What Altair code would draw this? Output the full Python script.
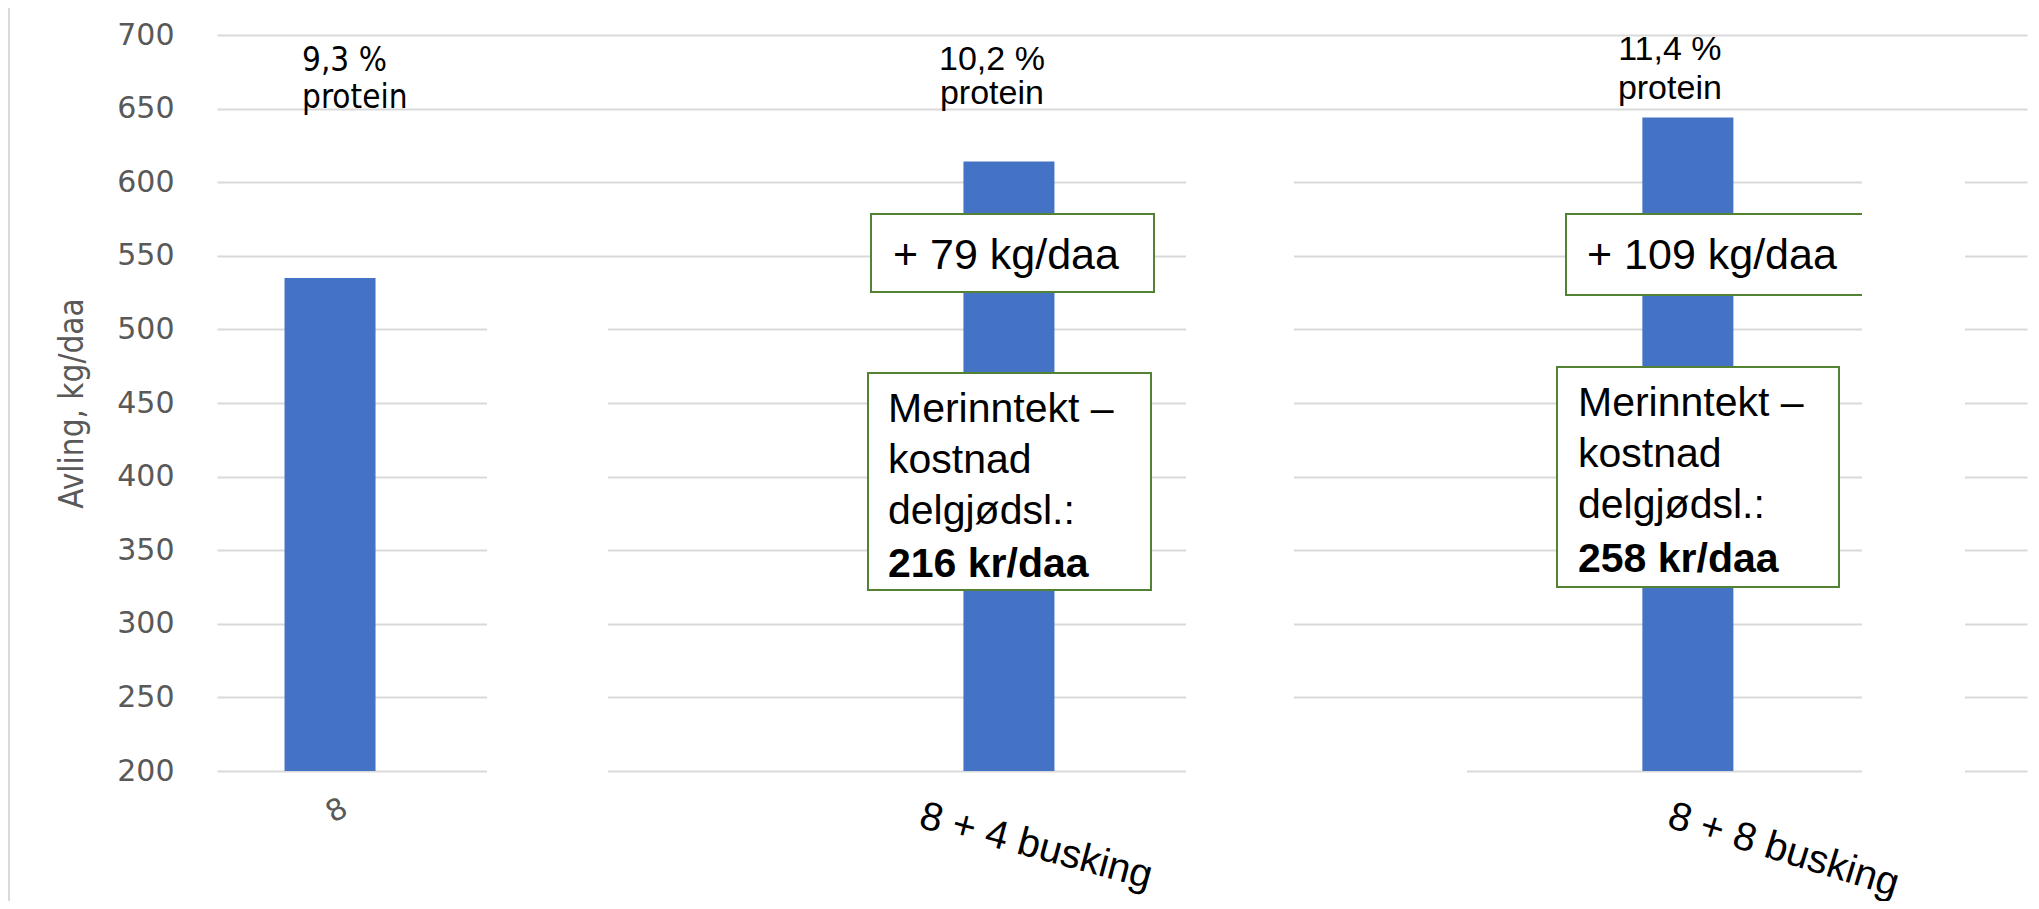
import altair as alt
import pandas as pd

# ---- data ----
categories = ["8", "8 + 4 busking", "8 + 8 busking"]
yields = [535, 614, 644]
protein = ["9,3 %", "10,2 %", "11,4 %"]
gain = ["", "+ 79 kg/daa", "+ 109 kg/daa"]
net_text = ["", "Merinntekt –\nkostnad\ndelgjødsl.:", "Merinntekt –\nkostnad\ndelgjødsl.:"]
net_value = ["", "216 kr/daa", "258 kr/daa"]
y_ticks = [200, 250, 300, 350, 400, 450, 500, 550, 600, 650, 700]

df = pd.DataFrame({
    "cat": categories,
    "yield": yields,
    "protein": [p + "\nprotein" for p in protein],
    "gain": gain,
    "net_text": net_text,
    "net_value": net_value,
})
one = pd.DataFrame({"k": [0]})

W, H = 1810, 736
BAR = "#4472c4"
GREEN = "#548235"
GRID = "#d9d9d9"
GRAY = "#595959"
ARIAL = "Liberation Sans, Arial, sans-serif"
NARROW = "Liberation Sans Narrow, Arial Narrow, DejaVu Sans Condensed, sans-serif"

x_enc = alt.X(
    "cat:N", sort=categories, axis=None,
    scale=alt.Scale(paddingInner=0.866, paddingOuter=0.266, align=0.187),
)

base = alt.Chart(df)

bars = base.mark_bar(color=BAR, size=91).encode(
    x=x_enc,
    y=alt.Y(
        "yield:Q",
        scale=alt.Scale(domain=[200, 700], nice=False, zero=False),
        axis=alt.Axis(
            values=y_ticks, grid=True, gridColor=GRID, gridWidth=2,
            domain=False, ticks=False, labelFont="DejaVu Sans",
            labelFontSize=30, labelColor=GRAY, labelPadding=43,
            title="Avling, kg/daa", titleFont=NARROW, titleFontSize=33,
            titleFontWeight="normal", titleColor=GRAY, titleX=-145,
            titleY=368, titleAngle=270, titleAlign="center",
            titleBaseline="middle",
        ),
    ),
    y2=alt.datum(200),
)

def white_gap(x1, x2, y1, y2):
    return alt.Chart(one).mark_rect(color="white").encode(
        x=alt.value(x1), x2=alt.value(x2), y=alt.value(y1), y2=alt.value(y2)
    )

gaps_back = [
    white_gap(270, 391, 290, 745),
    white_gap(287, 391, 287, 300),
    white_gap(969, 1077, 140, 745),
    white_gap(969, 1250, 728, 745),
]
gap_front = white_gap(1645, 1748, 140, 745)

def box(x1, x2, y1, y2):
    return alt.Chart(one).mark_rect(
        fill="white", stroke=GREEN, strokeWidth=2
    ).encode(x=alt.value(x1), x2=alt.value(x2), y=alt.value(y1), y2=alt.value(y2))

boxes = [
    box(654, 937, 179, 257),
    box(1349, 1646, 179, 260),
    box(651, 934, 338, 555),
    box(1340, 1622, 332, 552),
]

def only(cat):
    return base.transform_filter(alt.datum.cat == cat)

prot1 = only("8").mark_text(
    align="left", baseline="alphabetic", dx=-28, font=NARROW, fontSize=33,
    lineBreak="\n", lineHeight=37, color="black",
).encode(x=x_enc, y=alt.value(36), text="protein:N")
prot2 = only("8 + 4 busking").mark_text(
    align="center", baseline="alphabetic", dx=-17, font=ARIAL, fontSize=34,
    lineBreak="\n", lineHeight=34, color="black",
).encode(x=x_enc, y=alt.value(35), text="protein:N")
prot3 = only("8 + 8 busking").mark_text(
    align="center", baseline="alphabetic", dx=-18, font=ARIAL, fontSize=34,
    lineBreak="\n", lineHeight=39, color="black",
).encode(x=x_enc, y=alt.value(25), text="protein:N")

def ann(cat, field, x, y, size=41, weight="normal"):
    return only(cat).mark_text(
        align="left", baseline="alphabetic", font=ARIAL, fontSize=size,
        fontWeight=weight, lineBreak="\n", lineHeight=51, color="black",
    ).encode(x=alt.value(x), y=alt.value(y), text=f"{field}:N")

anns = [
    ann("8 + 4 busking", "gain", 676, 234, 43),
    ann("8 + 8 busking", "gain", 1370, 234, 43),
    ann("8 + 4 busking", "net_text", 671, 387),
    ann("8 + 4 busking", "net_value", 671, 542, 41, "bold"),
    ann("8 + 8 busking", "net_text", 1361, 381),
    ann("8 + 8 busking", "net_value", 1361, 537, 41, "bold"),
]

xl1 = only("8").mark_text(
    angle=330, font="DejaVu Sans", fontSize=30, color=GRAY, dx=8,
    align="center", baseline="middle",
).encode(x=x_enc, y=alt.value(780), text="cat:N")
xl2 = only("8 + 4 busking").mark_text(
    angle=15, font=ARIAL, fontSize=40, color="black", dx=28,
    align="center", baseline="middle",
).encode(x=x_enc, y=alt.value(804), text="cat:N")
xl3 = only("8 + 8 busking").mark_text(
    angle=17, font=ARIAL, fontSize=40, color="black", dx=100,
    align="center", baseline="middle",
).encode(x=x_enc, y=alt.value(786), text="cat:N")

frame_left = alt.Chart(one).mark_rule(color=GRID, strokeWidth=2).encode(
    x=alt.value(-208), y=alt.value(-28), y2=alt.value(870)
)
frame_top = alt.Chart(one).mark_rule(color=GRID, strokeWidth=2).encode(
    x=alt.value(-208), x2=alt.value(1814), y=alt.value(-28)
)

chart = alt.layer(
    *gaps_back, bars, *boxes, gap_front, prot1, prot2, prot3, *anns,
    xl1, xl2, xl3, frame_left, frame_top,
).properties(
    width=W, height=H,
    autosize=alt.AutoSizeParams(type="none"),
    padding={"left": 209, "top": 27, "right": 4, "bottom": 130},
    background="white",
).configure_view(stroke=None)

chart.save("out.html", embed_options={"renderer": "svg", "actions": False})
